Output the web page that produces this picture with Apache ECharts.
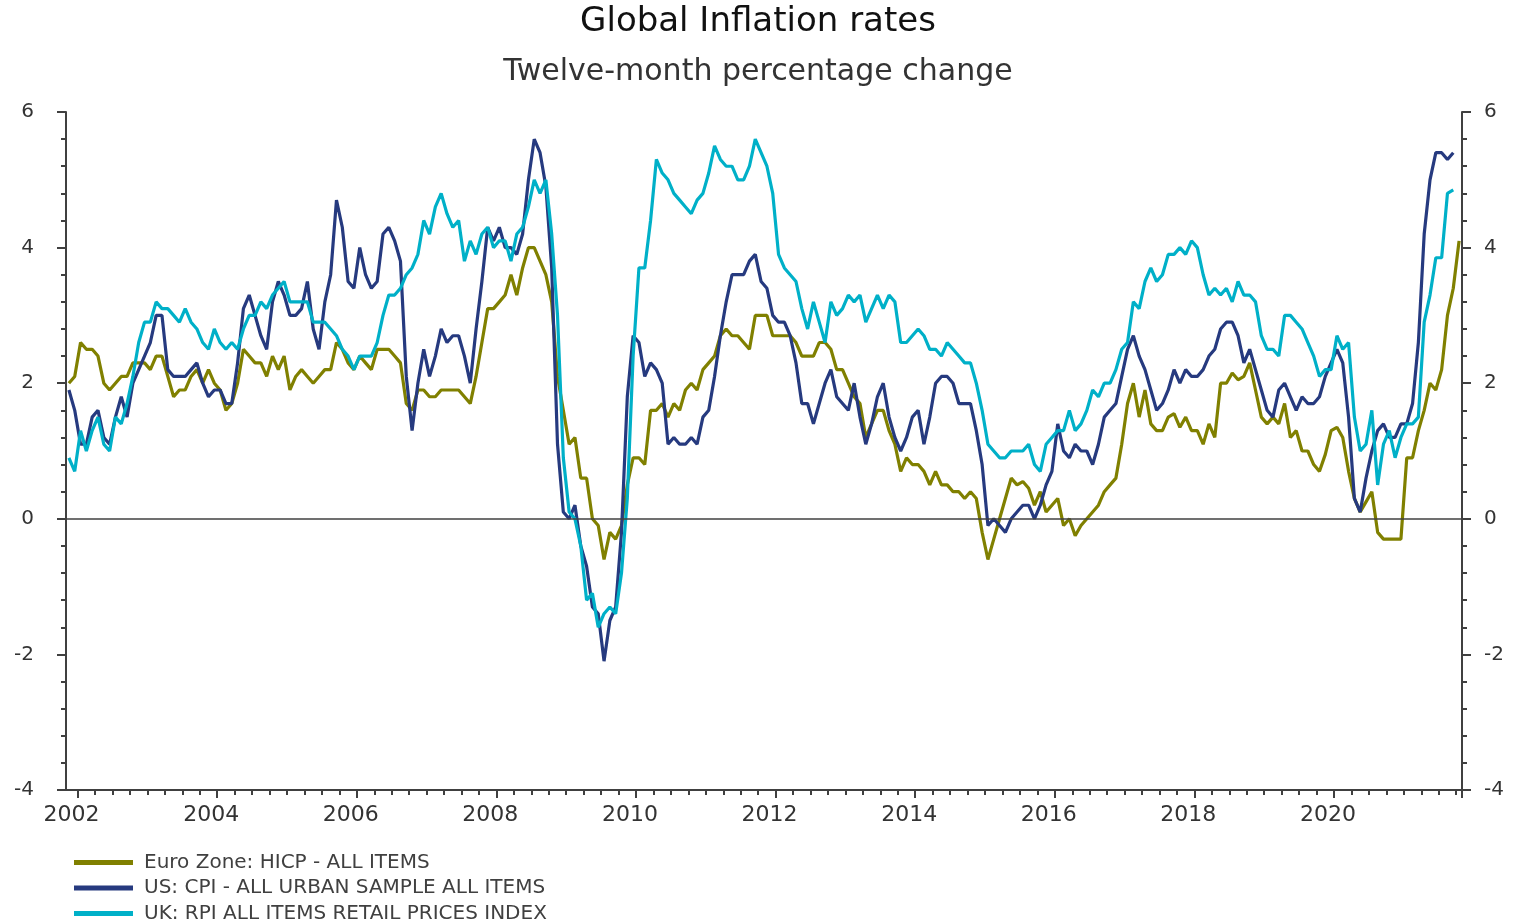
<!DOCTYPE html>
<html>
<head>
<meta charset="utf-8">
<title>Global Inflation rates</title>
<script src="https://cdn.jsdelivr.net/npm/echarts@6/dist/echarts.min.js"></script>
<style>
  html, body { margin: 0; padding: 0; background: #fff; }
  #chart { width: 1516px; height: 920px; }
</style>
</head>
<body>
<div id="chart"></div>
<script>
// monthly categories, Nov 2001 .. Oct 2021
const months = [];
for (let y = 2001, m = 11; y < 2021 || (y === 2021 && m <= 10); m++) {
  if (m > 12) { m = 1; y++; }
  if (y === 2021 && m > 10) break;
  months.push(y + "-" + String(m).padStart(2, "0"));
}

const seriesNames = [
  "Euro Zone: HICP - ALL ITEMS",
  "US: CPI - ALL URBAN SAMPLE ALL ITEMS",
  "UK: RPI ALL ITEMS RETAIL PRICES INDEX",
];
const colors = ["#808000", "#263a7f", "#00b0c8"];

// twelve-month % change, one row per year (first row Nov-Dec 2001)
const euroHicp = [
  2.0, 2.1,
  2.6, 2.5, 2.5, 2.4, 2.0, 1.9, 2.0, 2.1, 2.1, 2.3, 2.3, 2.3,
  2.2, 2.4, 2.4, 2.1, 1.8, 1.9, 1.9, 2.1, 2.2, 2.0, 2.2, 2.0,
  1.9, 1.6, 1.7, 2.0, 2.5, 2.4, 2.3, 2.3, 2.1, 2.4, 2.2, 2.4,
  1.9, 2.1, 2.2, 2.1, 2.0, 2.1, 2.2, 2.2, 2.6, 2.5, 2.3, 2.2,
  2.4, 2.3, 2.2, 2.5, 2.5, 2.5, 2.4, 2.3, 1.7, 1.6, 1.9, 1.9,
  1.8, 1.8, 1.9, 1.9, 1.9, 1.9, 1.8, 1.7, 2.1, 2.6, 3.1, 3.1,
  3.2, 3.3, 3.6, 3.3, 3.7, 4.0, 4.0, 3.8, 3.6, 3.2, 2.1, 1.6,
  1.1, 1.2, 0.6, 0.6, 0.0, -0.1, -0.6, -0.2, -0.3, -0.1, 0.5, 0.9,
  0.9, 0.8, 1.6, 1.6, 1.7, 1.5, 1.7, 1.6, 1.9, 2.0, 1.9, 2.2,
  2.3, 2.4, 2.7, 2.8, 2.7, 2.7, 2.6, 2.5, 3.0, 3.0, 3.0, 2.7,
  2.7, 2.7, 2.7, 2.6, 2.4, 2.4, 2.4, 2.6, 2.6, 2.5, 2.2, 2.2,
  2.0, 1.8, 1.7, 1.2, 1.4, 1.6, 1.6, 1.3, 1.1, 0.7, 0.9, 0.8,
  0.8, 0.7, 0.5, 0.7, 0.5, 0.5, 0.4, 0.4, 0.3, 0.4, 0.3, -0.2,
  -0.6, -0.3, 0.0, 0.3, 0.6, 0.5, 0.55, 0.45, 0.2, 0.4, 0.1, 0.2,
  0.3, -0.1, 0.0, -0.25, -0.1, 0.0, 0.1, 0.2, 0.4, 0.5, 0.6, 1.1,
  1.7, 2.0, 1.5, 1.9, 1.4, 1.3, 1.3, 1.5, 1.55, 1.35, 1.5, 1.3,
  1.3, 1.1, 1.4, 1.2, 2.0, 2.0, 2.15, 2.05, 2.1, 2.3, 1.9, 1.5,
  1.4, 1.5, 1.4, 1.7, 1.2, 1.3, 1.0, 1.0, 0.8, 0.7, 0.95, 1.3,
  1.35, 1.2, 0.7, 0.3, 0.1, 0.25, 0.4, -0.2, -0.3, -0.3, -0.3, -0.3,
  0.9, 0.9, 1.3, 1.6, 2.0, 1.9, 2.2, 3.0, 3.4, 4.1,
];

const usCpi = [
  1.9, 1.6,
  1.1, 1.1, 1.5, 1.6, 1.2, 1.1, 1.5, 1.8, 1.5, 2.0, 2.2, 2.4,
  2.6, 3.0, 3.0, 2.2, 2.1, 2.1, 2.1, 2.2, 2.3, 2.0, 1.8, 1.9,
  1.9, 1.7, 1.7, 2.3, 3.1, 3.3, 3.0, 2.7, 2.5, 3.2, 3.5, 3.3,
  3.0, 3.0, 3.1, 3.5, 2.8, 2.5, 3.2, 3.6, 4.7, 4.3, 3.5, 3.4,
  4.0, 3.6, 3.4, 3.5, 4.2, 4.3, 4.1, 3.8, 2.1, 1.3, 2.0, 2.5,
  2.1, 2.4, 2.8, 2.6, 2.7, 2.7, 2.4, 2.0, 2.8, 3.5, 4.3, 4.1,
  4.3, 4.0, 4.0, 3.9, 4.2, 5.0, 5.6, 5.4, 4.9, 3.7, 1.1, 0.1,
  0.0, 0.2, -0.4, -0.7, -1.3, -1.4, -2.1, -1.5, -1.3, -0.2, 1.8, 2.7,
  2.6, 2.1, 2.3, 2.2, 2.0, 1.1, 1.2, 1.1, 1.1, 1.2, 1.1, 1.5,
  1.6, 2.1, 2.7, 3.2, 3.6, 3.6, 3.6, 3.8, 3.9, 3.5, 3.4, 3.0,
  2.9, 2.9, 2.7, 2.3, 1.7, 1.7, 1.4, 1.7, 2.0, 2.2, 1.8, 1.7,
  1.6, 2.0, 1.5, 1.1, 1.4, 1.8, 2.0, 1.5, 1.2, 1.0, 1.2, 1.5,
  1.6, 1.1, 1.5, 2.0, 2.1, 2.1, 2.0, 1.7, 1.7, 1.7, 1.3, 0.8,
  -0.1, 0.0, -0.1, -0.2, 0.0, 0.1, 0.2, 0.2, 0.0, 0.2, 0.5, 0.7,
  1.4, 1.0, 0.9, 1.1, 1.0, 1.0, 0.8, 1.1, 1.5, 1.6, 1.7, 2.1,
  2.5, 2.7, 2.4, 2.2, 1.9, 1.6, 1.7, 1.9, 2.2, 2.0, 2.2, 2.1,
  2.1, 2.2, 2.4, 2.5, 2.8, 2.9, 2.9, 2.7, 2.3, 2.5, 2.2, 1.9,
  1.6, 1.5, 1.9, 2.0, 1.8, 1.6, 1.8, 1.7, 1.7, 1.8, 2.1, 2.3,
  2.5, 2.3, 1.5, 0.3, 0.1, 0.6, 1.0, 1.3, 1.4, 1.2, 1.2, 1.4,
  1.4, 1.7, 2.6, 4.2, 5.0, 5.4, 5.4, 5.3, 5.4,
];

const ukRpi = [
  0.9, 0.7,
  1.3, 1.0, 1.3, 1.5, 1.1, 1.0, 1.5, 1.4, 1.7, 2.1, 2.6, 2.9,
  2.9, 3.2, 3.1, 3.1, 3.0, 2.9, 3.1, 2.9, 2.8, 2.6, 2.5, 2.8,
  2.6, 2.5, 2.6, 2.5, 2.8, 3.0, 3.0, 3.2, 3.1, 3.3, 3.4, 3.5,
  3.2, 3.2, 3.2, 3.2, 2.9, 2.9, 2.9, 2.8, 2.7, 2.5, 2.4, 2.2,
  2.4, 2.4, 2.4, 2.6, 3.0, 3.3, 3.3, 3.4, 3.6, 3.7, 3.9, 4.4,
  4.2, 4.6, 4.8, 4.5, 4.3, 4.4, 3.8, 4.1, 3.9, 4.2, 4.3, 4.0,
  4.1, 4.1, 3.8, 4.2, 4.3, 4.6, 5.0, 4.8, 5.0, 4.2, 3.0, 0.9,
  0.1, 0.0, -0.4, -1.2, -1.1, -1.6, -1.4, -1.3, -1.4, -0.8, 0.3, 2.4,
  3.7, 3.7, 4.4, 5.3, 5.1, 5.0, 4.8, 4.7, 4.6, 4.5, 4.7, 4.8,
  5.1, 5.5, 5.3, 5.2, 5.2, 5.0, 5.0, 5.2, 5.6, 5.4, 5.2, 4.8,
  3.9, 3.7, 3.6, 3.5, 3.1, 2.8, 3.2, 2.9, 2.6, 3.2, 3.0, 3.1,
  3.3, 3.2, 3.3, 2.9, 3.1, 3.3, 3.1, 3.3, 3.2, 2.6, 2.6, 2.7,
  2.8, 2.7, 2.5, 2.5, 2.4, 2.6, 2.5, 2.4, 2.3, 2.3, 2.0, 1.6,
  1.1, 1.0, 0.9, 0.9, 1.0, 1.0, 1.0, 1.1, 0.8, 0.7, 1.1, 1.2,
  1.3, 1.3, 1.6, 1.3, 1.4, 1.6, 1.9, 1.8, 2.0, 2.0, 2.2, 2.5,
  2.6, 3.2, 3.1, 3.5, 3.7, 3.5, 3.6, 3.9, 3.9, 4.0, 3.9, 4.1,
  4.0, 3.6, 3.3, 3.4, 3.3, 3.4, 3.2, 3.5, 3.3, 3.3, 3.2, 2.7,
  2.5, 2.5, 2.4, 3.0, 3.0, 2.9, 2.8, 2.6, 2.4, 2.1, 2.2, 2.2,
  2.7, 2.5, 2.6, 1.5, 1.0, 1.1, 1.6, 0.5, 1.1, 1.3, 0.9, 1.2,
  1.4, 1.4, 1.5, 2.9, 3.3, 3.85, 3.85, 4.8, 4.85,
];

const FONT = "'DejaVu Sans', 'Noto Sans', sans-serif";
const AXIS_COLOR = "#404040";
const TEXT_COLOR = "#333333";

// Jan 2002 is index 2; minor ticks every quarter, labels every two years
const isQuarter = (i) => i >= 2 && (i - 2) % 3 === 0;
const isLabelYear = (i) => i >= 2 && (i - 2) % 24 === 0;

function valueAxis(position, labelMargin) {
  return {
    type: "value",
    position: position,
    min: -4,
    max: 6,
    interval: 2,
    axisLine: { show: true, lineStyle: { color: AXIS_COLOR, width: 2 } },
    axisTick: { show: true, length: 9, lineStyle: { color: AXIS_COLOR, width: 2 } },
    minorTick: { show: true, splitNumber: 5, length: 5, lineStyle: { color: AXIS_COLOR, width: 2 } },
    splitLine: { show: false },
    axisLabel: { color: TEXT_COLOR, fontFamily: FONT, fontSize: 20, margin: labelMargin },
  };
}

const chart = echarts.init(document.getElementById("chart"));

chart.setOption({
  animation: false,
  backgroundColor: "#ffffff",
  title: {
    text: "Global Inflation rates",
    subtext: "Twelve-month percentage change",
    left: "center",
    top: 0,
    itemGap: 18,
    textStyle: { color: "#111111", fontFamily: FONT, fontSize: 34, fontWeight: "normal" },
    subtextStyle: { color: TEXT_COLOR, fontFamily: FONT, fontSize: 30 },
  },
  legend: {
    orient: "vertical",
    left: 69,
    top: 847,
    height: 80,
    icon: "rect",
    itemWidth: 59,
    itemHeight: 5,
    itemGap: 4.5,
    selectedMode: false,
    data: seriesNames,
    textStyle: {
      color: AXIS_COLOR,
      fontFamily: FONT,
      fontSize: 20,
      lineHeight: 21,
      padding: [0, 0, 0, 6],
    },
  },
  grid: { left: 66, right: 54, top: 112, bottom: 130, containLabel: false },
  xAxis: [
    {
      type: "category",
      data: months,
      boundaryGap: true,
      axisLine: { show: true, onZero: false, lineStyle: { color: AXIS_COLOR, width: 2 } },
      axisTick: { show: true, length: 5, interval: isQuarter, lineStyle: { color: AXIS_COLOR, width: 2 } },
      axisLabel: { show: false },
      splitLine: { show: false },
    },
    {
      type: "category",
      data: months,
      position: "bottom",
      boundaryGap: true,
      axisLine: { show: false, onZero: false },
      axisTick: { show: true, length: 8, interval: isLabelYear, lineStyle: { color: AXIS_COLOR, width: 2 } },
      axisLabel: {
        interval: isLabelYear,
        formatter: (v) => v.slice(0, 4),
        color: TEXT_COLOR,
        fontFamily: FONT,
        fontSize: 22,
        margin: 14,
        padding: [0, 18, 0, 0],
      },
      splitLine: { show: false },
    },
  ],
  yAxis: [valueAxis("left", 32), valueAxis("right", 22)],
  series: [
    {
      name: seriesNames[0],
      type: "line",
      data: euroHicp,
      showSymbol: false,
      symbol: "none",
      lineStyle: { width: 3.2, color: colors[0] },
      itemStyle: { color: colors[0] },
      markLine: {
        silent: true,
        symbol: "none",
        label: { show: false },
        lineStyle: { color: AXIS_COLOR, width: 1.5, type: "solid" },
        data: [{ yAxis: 0 }],
      },
    },
    {
      name: seriesNames[1],
      type: "line",
      data: usCpi,
      showSymbol: false,
      symbol: "none",
      lineStyle: { width: 3.2, color: colors[1] },
      itemStyle: { color: colors[1] },
    },
    {
      name: seriesNames[2],
      type: "line",
      data: ukRpi,
      showSymbol: false,
      symbol: "none",
      lineStyle: { width: 3.2, color: colors[2] },
      itemStyle: { color: colors[2] },
    },
  ],
});
</script>
</body>
</html>
